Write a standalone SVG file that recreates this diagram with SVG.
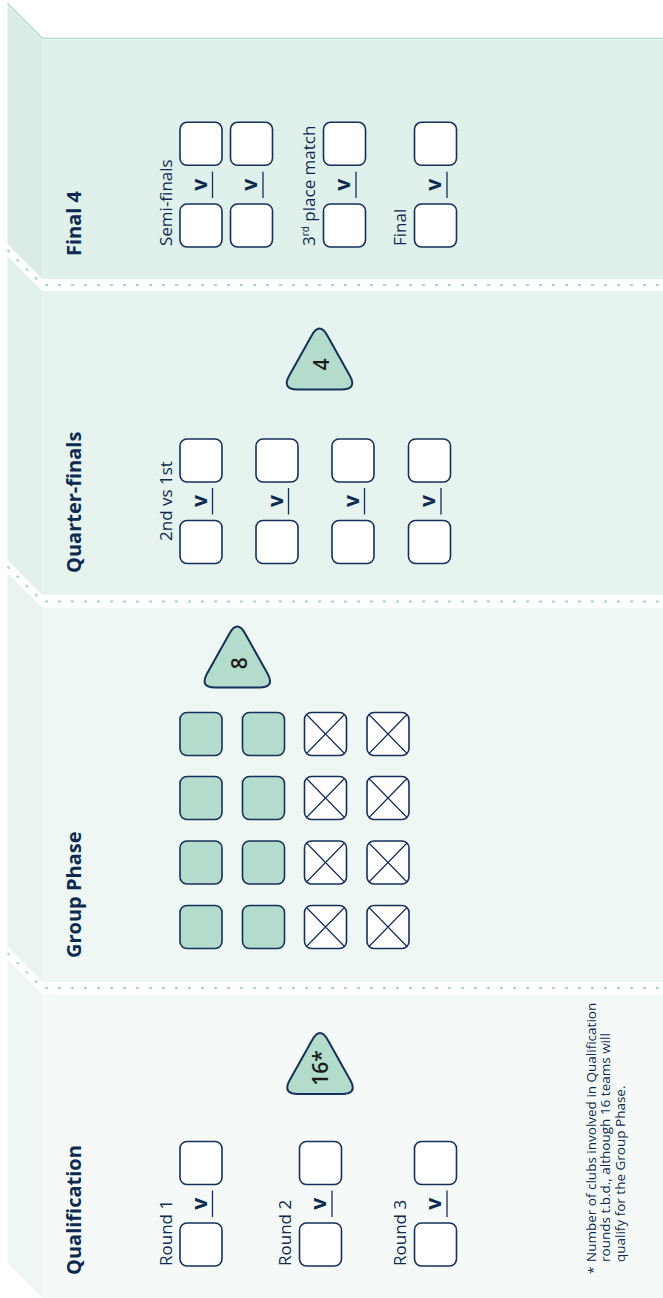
<svg xmlns="http://www.w3.org/2000/svg" width="663" height="1298" viewBox="0 0 663 1298">
<style>
text{font-family:"Open Sans","Noto Sans","DejaVu Sans",sans-serif}
.title{font-weight:700;font-size:20px;fill:#0d2b50}
.lbl{font-size:17px;fill:#0d2b50}
.v{font-weight:700;font-size:21px;fill:#0d2b50;text-anchor:middle}
.num{font-weight:600;font-size:21px;fill:#1c1c1c;text-anchor:middle}
.note{font-size:13.5px;fill:#0d2b50}
.box{fill:#fff;stroke:#15305a;stroke-width:1.6}
.gbox{fill:#b3dccd;stroke:#15305a;stroke-width:1.6}
.x{stroke:#15305a;stroke-width:1.2}
.ul{stroke:#15305a;stroke-width:1.3}
.tri{fill:#b3dccd;stroke:#15305a;stroke-width:2}
.dots{fill:none;stroke:#a9d6c5;stroke-width:2;stroke-dasharray:3 10}
</style>
<defs>
<path id="tri" d="M -7.8,-54.03 Q 0,-68 7.8,-54.03 L 30.2,-13.97 Q 38,0 22,0 L -22,0 Q -38,0 -30.2,-13.97 Z"/>
</defs>
<rect width="663" height="1298" fill="#fff"/>
<g id="panels">
<polygon points="7.5,5 42.5,40 42.5,279 7.5,244" fill="#dbece5"/>
<rect x="42.5" y="40" width="620.5" height="239" fill="#e0f0ea"/>
<polygon points="7.5,256 42.5,291 42.5,595 7.5,560" fill="#e2f1eb"/>
<rect x="42.5" y="291" width="620.5" height="304" fill="#e6f3ee"/>
<polygon points="7.5,573 42.5,608 42.5,982 7.5,947" fill="#e9f4ef"/>
<rect x="42.5" y="608" width="620.5" height="374" fill="#eef7f3"/>
<polygon points="7.5,959 42.5,994 42.5,1298 7.5,1263" fill="#eff7f4"/>
<rect x="42.5" y="994" width="620.5" height="304" fill="#f5faf8"/>
<polyline points="7.5,3.5 42.5,38.5 663,38.5" fill="none" stroke="#b3dccd" stroke-width="1.5"/>
</g>
<g id="separators">
<polyline class="dots" points="7.5,250 42.5,285 663,285"/>
<polyline class="dots" points="7.5,566.5 42.5,601.5 663,601.5"/>
<polyline class="dots" points="7.5,953 42.5,988 663,988"/>
</g>
<g id="final4">
<text class="title" transform="translate(81,256) rotate(-90)">Final 4</text>
<text class="lbl" transform="translate(171.5,246) rotate(-90)">Semi-finals</text>
<text class="lbl" transform="translate(315,246) rotate(-90)">3<tspan font-size="10" dy="-6">rd</tspan><tspan dy="6"> place match</tspan></text>
<text class="lbl" transform="translate(406,246) rotate(-90)">Final</text>
<rect class="box" x="180" y="122.3" width="42" height="43" rx="7"/>
<rect class="box" x="180" y="204" width="42" height="43" rx="7"/>
<rect class="box" x="230.5" y="122.3" width="42" height="43" rx="7"/>
<rect class="box" x="230.5" y="204" width="42" height="43" rx="7"/>
<rect class="box" x="323.5" y="122.3" width="42" height="43" rx="7"/>
<rect class="box" x="323.5" y="204" width="42" height="43" rx="7"/>
<rect class="box" x="414.5" y="122.3" width="42" height="43" rx="7"/>
<rect class="box" x="414.5" y="204" width="42" height="43" rx="7"/>
<text class="v" transform="translate(206.5,184.7) rotate(-90)">v</text>
<text class="v" transform="translate(257,184.7) rotate(-90)">v</text>
<text class="v" transform="translate(350,184.7) rotate(-90)">v</text>
<text class="v" transform="translate(441,184.7) rotate(-90)">v</text>
<line class="ul" x1="212.5" y1="171.7" x2="212.5" y2="198"/>
<line class="ul" x1="263" y1="171.7" x2="263" y2="198"/>
<line class="ul" x1="356" y1="171.7" x2="356" y2="198"/>
<line class="ul" x1="447" y1="171.7" x2="447" y2="198"/>
</g>
<g id="quarterfinals">
<text class="title" transform="translate(81,573) rotate(-90)">Quarter-finals</text>
<text class="lbl" text-anchor="middle" transform="translate(171.5,501) rotate(-90)">2nd vs 1st</text>
<rect class="box" x="180" y="439" width="42" height="43" rx="7"/>
<rect class="box" x="180" y="520.5" width="42" height="43" rx="7"/>
<rect class="box" x="256" y="439" width="42" height="43" rx="7"/>
<rect class="box" x="256" y="520.5" width="42" height="43" rx="7"/>
<rect class="box" x="332" y="439" width="42" height="43" rx="7"/>
<rect class="box" x="332" y="520.5" width="42" height="43" rx="7"/>
<rect class="box" x="408.5" y="439" width="42" height="43" rx="7"/>
<rect class="box" x="408.5" y="520.5" width="42" height="43" rx="7"/>
<text class="v" transform="translate(206.5,501) rotate(-90)">v</text>
<text class="v" transform="translate(282.5,501) rotate(-90)">v</text>
<text class="v" transform="translate(358.5,501) rotate(-90)">v</text>
<text class="v" transform="translate(435,501) rotate(-90)">v</text>
<line class="ul" x1="212.5" y1="488" x2="212.5" y2="514.5"/>
<line class="ul" x1="288.5" y1="488" x2="288.5" y2="514.5"/>
<line class="ul" x1="364.5" y1="488" x2="364.5" y2="514.5"/>
<line class="ul" x1="441" y1="488" x2="441" y2="514.5"/>
</g>
<g id="qf-count">
<use href="#tri" class="tri" transform="translate(319.5,389.5)"/>
<text class="num" transform="translate(329,364.5) rotate(-90)">4</text>
</g>
<g id="groupphase">
<text class="title" transform="translate(81,958) rotate(-90)">Group Phase</text>
<rect class="gbox" x="180" y="712.5" width="42" height="43" rx="7"/>
<rect class="gbox" x="180" y="776.5" width="42" height="43" rx="7"/>
<rect class="gbox" x="180" y="841" width="42" height="43" rx="7"/>
<rect class="gbox" x="180" y="905.5" width="42" height="43" rx="7"/>
<rect class="gbox" x="242.5" y="712.5" width="42" height="43" rx="7"/>
<rect class="gbox" x="242.5" y="776.5" width="42" height="43" rx="7"/>
<rect class="gbox" x="242.5" y="841" width="42" height="43" rx="7"/>
<rect class="gbox" x="242.5" y="905.5" width="42" height="43" rx="7"/>
<rect class="box" x="304.5" y="712.5" width="42" height="43" rx="7"/>
<rect class="box" x="304.5" y="776.5" width="42" height="43" rx="7"/>
<rect class="box" x="304.5" y="841" width="42" height="43" rx="7"/>
<rect class="box" x="304.5" y="905.5" width="42" height="43" rx="7"/>
<rect class="box" x="367" y="712.5" width="42" height="43" rx="7"/>
<rect class="box" x="367" y="776.5" width="42" height="43" rx="7"/>
<rect class="box" x="367" y="841" width="42" height="43" rx="7"/>
<rect class="box" x="367" y="905.5" width="42" height="43" rx="7"/>
<path class="x" d="M306.5,714.5 L344.5,753.5 M344.5,714.5 L306.5,753.5 M306.5,778.5 L344.5,817.5 M344.5,778.5 L306.5,817.5 M306.5,843 L344.5,882 M344.5,843 L306.5,882 M306.5,907.5 L344.5,946.5 M344.5,907.5 L306.5,946.5"/>
<path class="x" d="M369,714.5 L407,753.5 M407,714.5 L369,753.5 M369,778.5 L407,817.5 M407,778.5 L369,817.5 M369,843 L407,882 M407,843 L369,882 M369,907.5 L407,946.5 M407,907.5 L369,946.5"/>
</g>
<g id="gp-count">
<use href="#tri" class="tri" transform="translate(237.3,687.5)"/>
<text class="num" transform="translate(246.5,663.3) rotate(-90)">8</text>
</g>
<g id="qualification">
<text class="title" transform="translate(81,1275) rotate(-90)">Qualification</text>
<text class="lbl" transform="translate(171.5,1266) rotate(-90)">Round 1</text>
<text class="lbl" transform="translate(291,1266) rotate(-90)">Round 2</text>
<text class="lbl" transform="translate(406,1266) rotate(-90)">Round 3</text>
<rect class="box" x="180" y="1141.5" width="42" height="43" rx="7"/>
<rect class="box" x="180" y="1223" width="42" height="43" rx="7"/>
<rect class="box" x="299.5" y="1141.5" width="42" height="43" rx="7"/>
<rect class="box" x="299.5" y="1223" width="42" height="43" rx="7"/>
<rect class="box" x="414.5" y="1141.5" width="42" height="43" rx="7"/>
<rect class="box" x="414.5" y="1223" width="42" height="43" rx="7"/>
<text class="v" transform="translate(206.5,1203.7) rotate(-90)">v</text>
<text class="v" transform="translate(326,1203.7) rotate(-90)">v</text>
<text class="v" transform="translate(441,1203.7) rotate(-90)">v</text>
<line class="ul" x1="212.5" y1="1190.5" x2="212.5" y2="1217"/>
<line class="ul" x1="332" y1="1190.5" x2="332" y2="1217"/>
<line class="ul" x1="447" y1="1190.5" x2="447" y2="1217"/>
</g>
<g id="q-count">
<use href="#tri" class="tri" transform="translate(320,1094)"/>
<text class="num" transform="translate(328,1068) rotate(-90)">16*</text>
</g>
<g id="footnote">
<text class="note" transform="translate(598,1274) rotate(-90)">*</text>
<text class="note" transform="translate(595.5,1262) rotate(-90)">Number of clubs involved in Qualification</text>
<text class="note" transform="translate(610,1262) rotate(-90)">rounds t.b.d., although 16 teams will</text>
<text class="note" transform="translate(624.5,1262) rotate(-90)">qualify for the Group Phase.</text>
</g>
</svg>
